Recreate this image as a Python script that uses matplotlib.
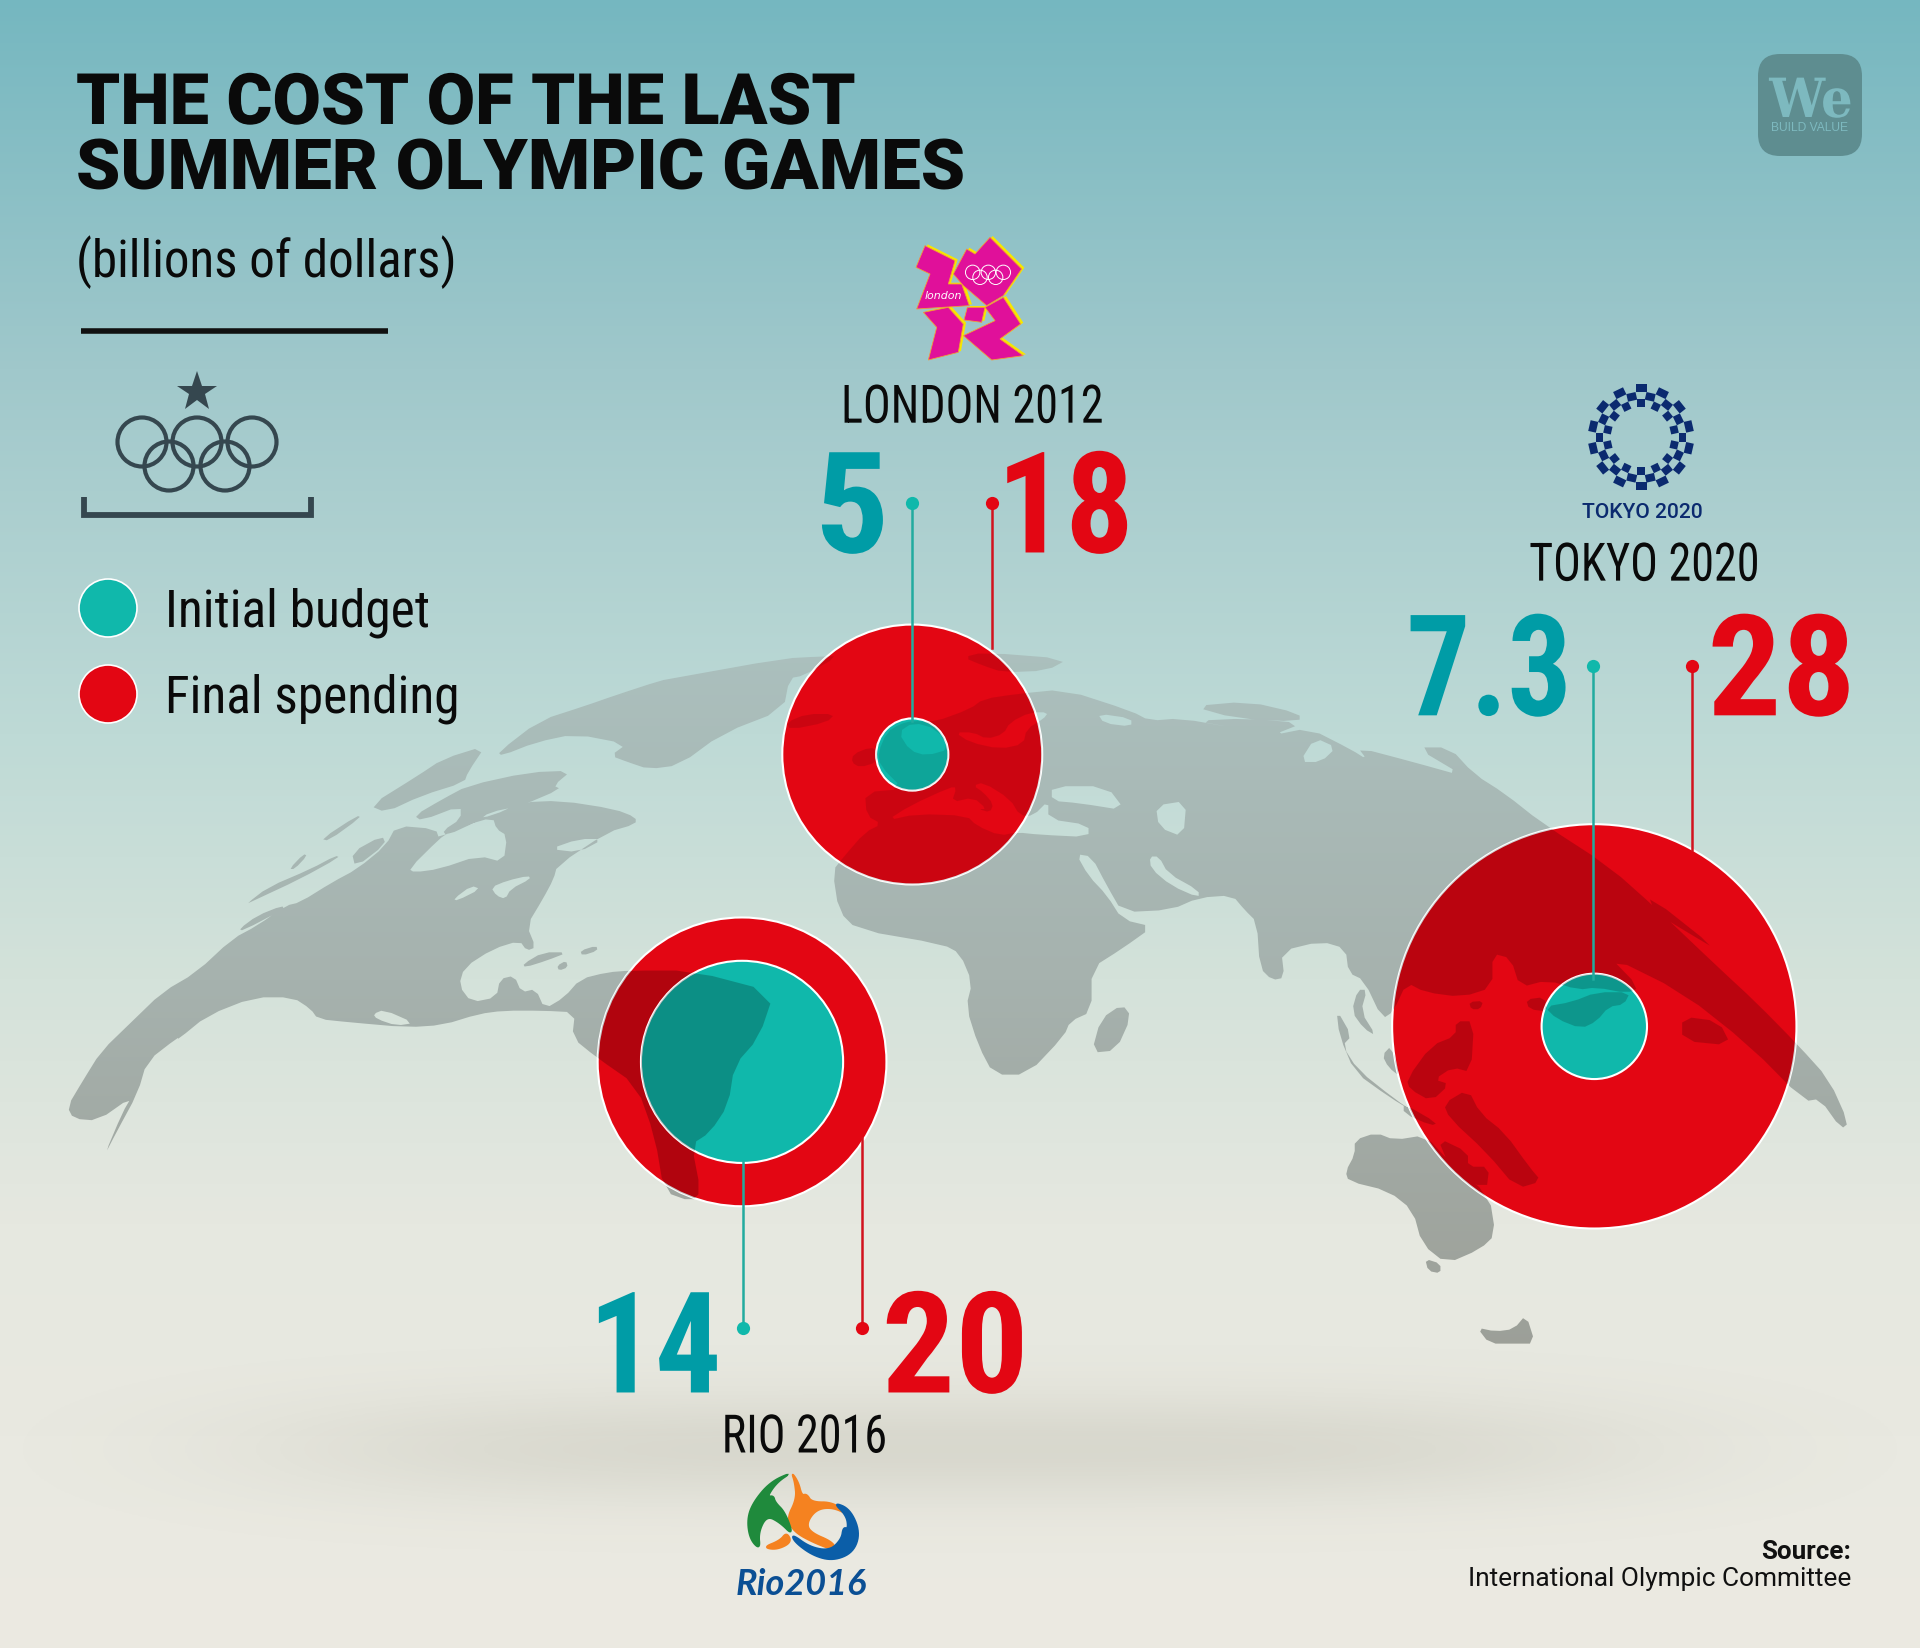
import numpy as np
import matplotlib
matplotlib.use("Agg")
import matplotlib.pyplot as plt
from matplotlib.patches import Circle, Polygon, PathPatch, FancyBboxPatch
from matplotlib.patheffects import AbstractPathEffect
from matplotlib.path import Path
from matplotlib.transforms import Affine2D

games = ["LONDON 2012", "RIO 2016", "TOKYO 2020"]
initial_budget = [5, 14, 7.3]
final_spending = [18, 20, 28]
initial_labels = ["5", "14", "7.3"]
final_labels = ["18", "20", "28"]

legend_labels = ["Initial budget", "Final spending"]
title_lines = ["THE COST OF THE LAST", "SUMMER OLYMPIC GAMES"]
subtitle = "(billions of dollars)"
source_lines = ["Source:", "International Olympic Committee"]

TEAL = "#10b8ab"
TEAL_TXT = "#009ca6"
RED = "#e30613"
DARK = "#35474f"
COND = ["Roboto Condensed", "Liberation Sans Narrow", "Roboto"]
PX = 0.72  # pixels to points at dpi 100
R_SCALE = 7.22  # radius in pixels per billion


# the sets of coordinates I traced the map in
def d(pts):
    return [(x * 1.2245, y * 1.2245) for x, y in pts]


def z1(pts):
    return [(x * 0.612, 620 + y * 0.395) for x, y in pts]


def z2(pts):
    return [(960 + x * 0.612, 620 + y * 0.4847) for x, y in pts]


def z3(pts):
    return [(100 + x / 2.8, 640 + y / 3) for x, y in pts]


def z4(pts):
    return [(770 + x / 3, 620 + y / 3) for x, y in pts]


def chaikin(pts, passes=1):
    p = np.array(pts, float)
    for _ in range(passes):
        q = np.roll(p, -1, axis=0)
        p = np.column_stack([0.75 * p + 0.25 * q, 0.25 * p + 0.75 * q]).reshape(-1, 2)
    return p


def ring(pts, hole=False):
    p = chaikin(pts)
    x, y = p[:, 0], p[:, 1]
    area = np.sum(x * np.roll(y, -1) - np.roll(x, -1) * y)
    if (area > 0) == hole:
        p = p[::-1]
    return p


def compound(land, holes):
    verts, codes = [], []
    for pts, h in [(a, False) for a in land] + [(b, True) for b in holes]:
        p = ring(pts, h)
        verts += list(p) + [p[0]]
        codes += [Path.MOVETO] + [Path.LINETO] * (len(p) - 1) + [Path.CLOSEPOLY]
    return Path(np.array(verts), codes)


class Squeeze(AbstractPathEffect):
    # narrower letters, the reference font is tighter than anything installed
    def __init__(self, fx, x0):
        super().__init__()
        self.fx, self.x0 = fx, x0

    def draw_path(self, renderer, gc, tpath, affine, rgbFace=None):
        a = affine + Affine2D().translate(-self.x0, 0).scale(self.fx, 1).translate(self.x0, 0)
        renderer.draw_path(gc, tpath, a, rgbFace)


north_america = (z1([(110, 1235), (135, 1170), (165, 1095), (215, 1020), (265, 945)]) +
                 z3([(270, 1000), (370, 900), (440, 860), (520, 800), (560, 790), (650, 730), (720, 690), (800, 620),
                     (830, 560), (940, 570), (950, 600), (1040, 540), (1100, 530), (1180, 490), (1290, 485),
                     (1440, 510), (1500, 535), (1500, 555), (1420, 580), (1280, 680), (1270, 720), (1240, 780),
                     (1195, 860), (1220, 925), (1195, 935), (1175, 905), (1100, 930), (1020, 985), (1005, 1040),
                     (1040, 1090), (1110, 1075), (1120, 1020), (1160, 1010), (1180, 1060), (1220, 1050),
                     (1245, 1110), (1300, 1075), (1345, 1020), (1420, 1000)]) +
                 z1([(1030, 890), (1130, 890), (1265, 945), (1240, 1060), (1200, 1130), (1190, 1230), (1160, 1300),
                     (1130, 1330), (1145, 1450), (1130, 1475), (1085, 1450), (1070, 1310), (1040, 1180), (975, 1110),
                     (935, 1060)]) +
                 z3([(1330, 1120), (1240, 1115), (1130, 1115), (1060, 1125), (960, 1158), (860, 1165), (700, 1150),
                     (610, 1140), (590, 1110), (540, 1075), (430, 1075), (300, 1130), (220, 1200)]) +
                 z1([(290, 1060), (240, 1120), (225, 1200), (190, 1300), (170, 1360), (200, 1250), (215, 1210),
                     (160, 1270), (120, 1265)]))
hudson = z3([(865, 690), (950, 600), (970, 585), (1020, 560), (1100, 535), (1110, 570), (1140, 590), (1130, 670),
             (1060, 650), (950, 690), (880, 700)])
lake_a = z3([(990, 780), (1040, 740), (1065, 750), (1000, 785)])
lake_b = z3([(1095, 745), (1140, 725), (1200, 710), (1205, 720), (1150, 750), (1135, 780), (1110, 770)])
st_lawrence = z3([(1260, 630), (1340, 600), (1410, 600), (1340, 640)])
baja = z3([(765, 1125), (795, 1112), (880, 1152), (830, 1160), (775, 1140)])
arctic = [z3(a) for a in [
    [(410, 795), (470, 745), (590, 690), (660, 650), (670, 655), (560, 720), (430, 785)],
    [(390, 870), (440, 830), (510, 800), (515, 810), (400, 875)],
    [(530, 690), (570, 645), (580, 650), (545, 690)],
    [(620, 600), (720, 530), (730, 535), (640, 605)],
    [(705, 640), (790, 590), (800, 615), (715, 685)],
    [(755, 500), (890, 410), (960, 360), (1080, 320), (1030, 400), (1020, 430), (900, 470), (800, 520)],
    [(880, 530), (960, 480), (1030, 440), (1200, 400), (1320, 395), (1270, 440), (1290, 450), (1180, 500),
     (1090, 520), (1060, 545), (970, 590), (960, 575), (1010, 540), (1010, 500), (900, 545)],
]]
greenland = (z3([(1115, 340), (1230, 245), (1360, 200), (1440, 170), (1568, 125)]) +
             z1([(1100, 150), (1280, 100), (1340, 95)]) + z4([(205, 112), (100, 170)]) +
             z1([(1290, 150), (1280, 230), (1180, 290), (1110, 370), (1060, 380)]) +
             z3([(1480, 370), (1430, 350), (1475, 315), (1330, 285), (1220, 310), (1125, 350)]))
iceland = z4([(50, 310), (110, 285), (195, 285), (170, 310), (60, 332)])
uk = z4([(245, 430), (250, 405), (300, 385), (325, 395), (320, 430), (270, 445)])
caribbean = [z3(a) for a in [
    [(1185, 975), (1240, 940), (1310, 940), (1250, 965), (1190, 985)],
    [(1280, 980), (1305, 965), (1310, 985), (1285, 995)],
    [(1345, 935), (1390, 920), (1393, 935), (1350, 950)],
]]

eurasia = (z4([(490, 310), (600, 270), (640, 240), (740, 225)]) +
           z2([(170, 145), (280, 190), (310, 210), (360, 205), (450, 225), (385, 210), (470, 205),
               (560, 215), (510, 240), (570, 225), (640, 270), (665, 290), (650, 265), (740, 295),
               (825, 325), (745, 265), (800, 265), (840, 320), (890, 360), (950, 420), (1060, 510), (1140, 600),
               (1240, 720), (1300, 790), (1370, 880), (1420, 950), (1452, 1040), (1440, 1052), (1405, 990),
               (1380, 995), (1290, 880), (1180, 770), (1060, 695), (1110, 760), (1090, 772), (1040, 760),
               (1010, 765), (960, 745), (915, 760), (900, 700), (870, 690), (870, 760), (820, 780), (760, 770),
               (730, 750), (708, 810), (690, 825), (660, 745), (635, 730), (630, 680), (590, 665), (525, 685),
               (530, 740), (510, 745), (490, 720), (485, 625), (465, 600), (445, 570), (390, 575), (345, 600),
               (265, 605), (240, 550), (215, 490), (190, 485), (210, 530), (240, 570), (265, 620), (315, 635),
               (265, 680), (215, 720), (215, 810), (180, 830), (170, 860), (110, 940), (55, 940), (30, 880),
               (10, 800), (20, 750), (0, 690)]) +
           d([(770, 772), (700, 760), (685, 745), (680, 712)]) +
           z4([(220, 715), (285, 640), (335, 615), (290, 590), (285, 520), (400, 510), (330, 440), (325, 400),
               (350, 340), (390, 315), (430, 305)]))
med = (z4([(350, 605), (420, 560), (540, 505), (560, 505), (545, 550), (610, 535), (650, 570), (625, 570), (660, 580),
           (670, 555), (640, 520), (610, 500), (640, 490), (720, 540), (750, 590), (790, 590), (835, 545), (835, 600)]) +
       z2([(210, 425), (210, 450), (130, 445)]) +
       z4([(740, 640), (690, 650), (620, 620), (590, 590), (440, 585)]))
black_sea = z2([(150, 345), (240, 345), (270, 395), (195, 380), (150, 375)])
caspian = z2([(320, 385), (370, 375), (365, 450), (325, 430)])
baltic = z4([(555, 340), (610, 340), (650, 360), (700, 345), (720, 310), (780, 280), (835, 280), (820, 300),
             (770, 330), (760, 375), (690, 390), (600, 370)])
north_sea = z4([(385, 340), (430, 310), (500, 330), (540, 390), (470, 410), (420, 395)])
persian = z2([(310, 490), (325, 490), (340, 525), (390, 560), (390, 575), (345, 550), (312, 515)])
siberia_holes = [z2(a) for a in [
    [(225, 195), (280, 205), (280, 222), (235, 215)],
    [(555, 295), (580, 245), (615, 265), (590, 295)],
]]
islands = [z2(a) for a in [
    [(380, 180), (470, 170), (555, 195), (555, 212), (450, 205)],
    [(265, 795), (280, 820), (255, 890), (215, 895), (230, 825)],
    [(615, 805), (640, 860), (625, 880), (650, 930), (710, 990), (745, 1020), (700, 985), (645, 935), (620, 860)],
    [(650, 765), (665, 765), (655, 810), (680, 860), (660, 845), (640, 810)],
    [(690, 900), (705, 880), (720, 945), (700, 925)],
    [(730, 950), (770, 880), (810, 860), (810, 830), (840, 830), (835, 935), (805, 925), (775, 950), (800, 960), (770, 995), (735, 970)],
    [(725, 1000), (780, 1040), (770, 1045), (725, 1020)],
    [(790, 1000), (830, 970), (850, 1020), (890, 1060), (930, 1130), (950, 1160), (910, 1175), (860, 1100), (800, 1030)],
    [(780, 1070), (830, 1100), (830, 1130), (865, 1130), (860, 1180), (800, 1130)],
    [(1180, 820), (1240, 830), (1260, 880), (1180, 870)],
    [(1125, 570), (1240, 685), (1180, 640), (1135, 605)],
    [(925, 785), (955, 780), (960, 810), (930, 805)],
    [(832, 790), (855, 788), (850, 805), (835, 805)],
    [(955, 800), (1000, 790), (1040, 770), (1095, 770), (1085, 795), (1060, 800), (1040, 830), (1015, 845), (975, 825)],
]]
novaya = z4([(580, 115), (640, 100), (895, 120), (830, 155), (700, 160), (640, 140)])
australia = z2([(645, 1075), (680, 1060), (710, 1075), (760, 1065), (800, 1120), (865, 1190), (875, 1270),
                (850, 1300), (795, 1330), (755, 1290), (740, 1220), (700, 1180), (635, 1160), (630, 1140), (645, 1105)])
tasmania = z2([(760, 1320), (785, 1330), (785, 1350), (765, 1345)])
new_zealand = z2([(845, 1462), (875, 1470), (905, 1465), (925, 1435), (940, 1495), (905, 1495), (865, 1495)])

land = [north_america, greenland, iceland, uk, novaya, eurasia, australia, tasmania, new_zealand] + arctic + caribbean + islands
holes = [hudson, lake_a, lake_b, st_lawrence, baja, med, black_sea, caspian, baltic, north_sea, persian] + siberia_holes
map_path = compound(land, holes)

fig = plt.figure(figsize=(19.2, 16.49), dpi=100)
ax = fig.add_axes([0, 0, 1, 1])
ax.set_xlim(0, 1920)
ax.set_ylim(1649, 0)
ax.axis("off")

# background gradient
yy = np.arange(1649)
bg_y = [0, 370, 735, 980, 1225, 1649]
bg = np.stack([np.interp(yy, bg_y, [117, 160, 190, 212, 230, 236]),
               np.interp(yy, bg_y, [183, 200, 218, 226, 232, 234]),
               np.interp(yy, bg_y, [192, 203, 214, 218, 224, 226])], axis=1)[:, None, :] / 255
ax.imshow(bg, extent=(0, 1920, 1649, 0), aspect="auto", zorder=0)

# soft shadow on the floor
xg, yg = np.meshgrid(np.linspace(0, 1920, 480), np.linspace(1300, 1600, 150))
sh = np.zeros(xg.shape + (4,))
sh[..., :3] = (0.48, 0.47, 0.38)
sh[..., 3] = 0.15 * np.exp(-((xg - 960) / 680) ** 4 - ((yg - 1450) / 55) ** 2)
ax.imshow(sh, extent=(0, 1920, 1600, 1300), aspect="auto", zorder=1)

# map with its own gradient
map_y = [600, 980, 1290, 1649]
land_col = np.stack([np.interp(yy, map_y, [172, 166, 158, 146]),
                     np.interp(yy, map_y, [194, 178, 162, 146]),
                     np.interp(yy, map_y, [192, 174, 155, 140])], axis=1)[:, None, :] / 255
im = ax.imshow(land_col, extent=(0, 1920, 1649, 0), aspect="auto", zorder=2)
im.set_clip_path(map_path, ax.transData)
ax.set_xlim(0, 1920)
ax.set_ylim(1649, 0)

# bubbles, centre positions per game
centers = d([(745, 617), (606, 868), (1302, 839)])
shade_top = [0.1, 0.22, 0.18]
for (cx, cy), ini, fin, sa in zip(centers, initial_budget, final_spending, shade_top):
    outer = Circle((cx, cy), fin * R_SCALE, fc=RED, ec="white", lw=1.5, zorder=3)
    ax.add_patch(outer)
    shade = PathPatch(map_path, fc="black", alpha=sa, lw=0, zorder=3.1)
    ax.add_patch(shade)
    shade.set_clip_path(outer)
    inner = Circle((cx, cy), ini * R_SCALE, fc=TEAL, ec="white", lw=1.5, zorder=3.2)
    ax.add_patch(inner)
    shade2 = PathPatch(map_path, fc="black", alpha=sa, lw=0, zorder=3.3)
    ax.add_patch(shade2)
    shade2.set_clip_path(inner)

# leader lines and dots
teal_x = d([(745, 0), (607, 0), (1301, 0)])
red_x = d([(810, 0), (704, 0), (1382, 0)])
dot_y = d([(0, 412), (0, 1085), (0, 545)])
teal_end = d([(0, 590), (0, 950), (0, 800)])
red_end = d([(0, 530), (0, 930), (0, 695)])
for i in range(3):
    ax.plot([teal_x[i][0]] * 2, [dot_y[i][1], teal_end[i][1]], color="#22ab9f", lw=1.8, zorder=4)
    ax.plot([red_x[i][0]] * 2, [dot_y[i][1], red_end[i][1]], color="#d2121e", lw=1.8, zorder=4)
    ax.plot(teal_x[i][0], dot_y[i][1], "o", color=TEAL, ms=9.5, mew=0, zorder=4)
    ax.plot(red_x[i][0], dot_y[i][1], "o", color=RED, ms=9.5, mew=0, zorder=4)

# the big numbers and names
num_size = 141 * PX
num_base = d([(0, 452), (0, 1138), (0, 585)])
ini_cx = d([(696, 0), (535, 0), (1216, 0)])
fin_cx = d([(870, 0), (780, 0), (1455, 0)])
ini_sq = [1.04, 0.93, 0.90]
fin_sq = [0.96, 1.03, 1.04]
name_pos = d([(794, 346), (657, 1187), (1343, 475)])
for i in range(3):
    x = ini_cx[i][0]
    t = ax.text(x, num_base[i][1], initial_labels[i], color=TEAL_TXT, fontsize=num_size, family=COND,
                weight="bold", ha="center", va="baseline", zorder=5)
    t.set_path_effects([Squeeze(ini_sq[i], x)])
    x = fin_cx[i][0]
    t = ax.text(x, num_base[i][1], final_labels[i], color=RED, fontsize=num_size, family=COND,
                weight="bold", ha="center", va="baseline", zorder=5)
    t.set_path_effects([Squeeze(fin_sq[i], x)])
    x = name_pos[i][0]
    t = ax.text(x, name_pos[i][1], games[i], color="#0a0a0a", fontsize=53 * PX, family=COND,
                ha="center", va="baseline", zorder=5)
    t.set_path_effects([Squeeze(0.87, x)])

# title block
t = ax.text(76, 125, title_lines[0], fontsize=71 * PX, family="Roboto", weight="black", color="#0a0a0a", va="baseline")
t.set_path_effects([Squeeze(0.989, 76)])
ax.text(76, 190, title_lines[1], fontsize=71 * PX, family="Roboto", weight="black", color="#0a0a0a", va="baseline")
ax.text(76, 277, subtitle, fontsize=51 * PX, family=COND, color="#0a0a0a", va="baseline")
ax.plot([81, 388], [332, 332], color="#111111", lw=4, solid_capstyle="butt")

# star, rings and podium icon
ax.plot(197, 393, marker="*", color=DARK, ms=30, mew=0)
for cx, cy in [(142, 443), (197, 443), (252, 443), (169, 467), (225, 467)]:
    ax.add_patch(Circle((cx, cy), 24.5, fc="none", ec=DARK, lw=3))
ax.plot([84, 84, 311, 311], [498, 516, 516, 498], color=DARK, lw=4.2, solid_joinstyle="miter", solid_capstyle="butt")

# legend
for y, col, lab in zip([609, 695], [TEAL, RED], legend_labels):
    ax.add_patch(Circle((108, y), 29, fc=col, ec="white", lw=1.2))
    ax.text(165, y + 18, lab, fontsize=51.4 * PX, family=COND, color="#0a0a0a", va="baseline")

# source
ax.text(1851, 1559, source_lines[0], fontsize=26 * PX, family="Roboto", weight="bold", color="#111111", ha="right", va="baseline")
ax.text(1851, 1586, source_lines[1], fontsize=26.3 * PX, family="Roboto", color="#111111", ha="right", va="baseline")

# We logo
ax.add_patch(FancyBboxPatch((1778, 75), 64, 62, boxstyle="round,pad=20,rounding_size=22", fc="#5e8d90", lw=0))
we = ax.text(1811, 118, "We", fontsize=54 * PX, family="DejaVu Serif", weight="bold", color="#7db9bf", ha="center", va="baseline")
we.set_path_effects([Squeeze(0.92, 1811)])
ax.text(1848, 131, "BUILD VALUE", fontsize=12 * PX, family="Liberation Sans", color="#7db9bf", ha="right", va="baseline")


# London logo, traced at 3x from (890, 225)
def lon(pts, dx=0, dy=0):
    return [(890 + (x + dx) / 3, 225 + (y + dy) / 3) for x, y in pts]


london_parts = [
    [(105, 65), (195, 110), (175, 180), (215, 180), (238, 245), (80, 255), (120, 150), (78, 130)],
    [(190, 150), (230, 75), (255, 90), (300, 40), (395, 135), (340, 215), (290, 245), (220, 185)],
    [(232, 250), (285, 250), (275, 295), (222, 288)],
    [(100, 265), (175, 250), (220, 300), (205, 385), (115, 408), (140, 310)],
    [(340, 220), (392, 300), (330, 345), (400, 395), (305, 408), (220, 335), (315, 290), (285, 250)],
]
for part in london_parts:
    ax.add_patch(Polygon(lon(part, 8, -4), fc="#f7e600", lw=0, zorder=5))
for part in london_parts:
    ax.add_patch(Polygon(lon(part), fc="#e0109a", ec="#f39a3a", lw=0.6, zorder=5.1))
for x, y in [(248, 145), (295, 145), (340, 145), (270, 160), (317, 160)]:
    px, py = lon([(x, y)])[0]
    ax.add_patch(Circle((px, py), 7.2, fc="none", ec="white", lw=0.7, zorder=5.2))
ax.text(*lon([(160, 222)])[0], "london", fontsize=11 * PX, style="italic", color="white", ha="center", va="baseline", zorder=5.2)

# Tokyo logo, checker ring drawn in a loop
tk_c = (1560 + 243 / 3, 370 + 205 / 3)
n_seg = 28
for k in range(n_seg):
    a = 2 * np.pi * k / n_seg
    ux, uy = np.cos(a), np.sin(a)
    for r_mid, s, hw in [(49.0, 1, 5.5), (41.5, 0, 4.7), (34.0, 1, 3.9)]:
        if (k + s) % 2:
            continue
        corners = [(r_mid + p * 3.9, q * hw) for p, q in [(-1, -1), (1, -1), (1, 1), (-1, 1)]]
        poly = [(tk_c[0] + u * ux - v * uy, tk_c[1] + u * uy + v * ux) for u, v in corners]
        ax.add_patch(Polygon(poly, fc="#0b2a6f", lw=0, zorder=5))
ax.text(1560 + 247 / 3, 370 + 444 / 3, "TOKYO 2020", fontsize=21 * PX, family="Roboto", weight="medium",
        color="#0b2a6f", ha="center", va="baseline", zorder=5)


# Rio logo, traced at 3x from (720, 1460)
def rio(pts):
    return [(720 + x / 3, 1460 + y / 3) for x, y in chaikin(pts, 3)]


orange = [(215, 40), (235, 70), (245, 110), (260, 105), (275, 130), (340, 130), (390, 170), (340, 145), (290, 150),
          (260, 190), (270, 220), (340, 250), (345, 275), (280, 250), (225, 220), (200, 180), (230, 120), (225, 70)]
orange2 = [(130, 265), (180, 245), (200, 220), (215, 250), (170, 272)]
green = [(215, 40), (150, 70), (100, 130), (82, 180), (90, 240), (120, 272), (115, 220), (140, 170), (180, 190),
         (220, 230), (195, 160), (165, 130), (160, 110), (140, 115), (170, 70)]
blue = [(340, 130), (390, 150), (420, 220), (400, 280), (340, 305), (280, 290), (225, 250), (215, 225), (270, 265),
        (330, 275), (365, 240), (370, 205), (385, 210), (380, 170)]
for shape, col in [(orange2, "#f58220"), (orange, "#f58220"), (blue, "#0b5ea8"), (green, "#1f8a3c")]:
    ax.add_patch(Polygon(rio(shape), fc=col, ec=col, lw=1.4, zorder=5))
ax.text(801, 1595, "Rio2016", fontsize=36 * PX, family="Lato", style="italic", weight="bold", color="#0b4f94",
        ha="center", va="baseline", zorder=5)

fig.savefig("out.png", dpi=100)
